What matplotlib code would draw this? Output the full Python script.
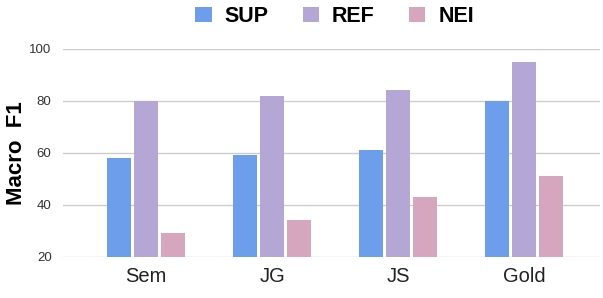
import matplotlib.pyplot as plt
import numpy as np

plt.rcParams['font.family'] = ['Liberation Sans', 'DejaVu Sans']

categories = ["Sem", "JG", "JS", "Gold"]
series = ["SUP", "REF", "NEI"]
sup = [58, 59, 61, 80]
ref = [80, 82, 84, 95]
nei = [29, 34, 43, 51]
colors = ["#6d9eeb", "#b4a7d6", "#d5a6bd"]

fig = plt.figure(figsize=(6.03, 2.98), dpi=100)
ax = fig.add_axes([0.104, 0.138, 0.891, 0.698])

x = np.arange(len(categories))
slot = 0.214
width = 0.19
for idx, vals in enumerate([sup, ref, nei]):
    ax.bar(x + (idx - 1) * slot, np.array(vals) - 20, bottom=20, width=width,
           color=colors[idx], label=series[idx], zorder=3)

ax.set_xlim(-0.66, 3.6)
ax.set_ylim(20, 100)
ax.set_yticks([20, 40, 60, 80, 100])
ax.yaxis.grid(True, color="#cccccc", linewidth=1, zorder=0)
for s in ax.spines.values():
    s.set_visible(False)
ax.tick_params(axis="y", length=0, labelsize=9.5, labelcolor="#333333", pad=8)
ax.tick_params(axis="x", length=0, labelsize=14.5, labelcolor="#222222", pad=7)
ax.set_xticks(x)
ax.set_xticklabels(categories)
ax.set_ylabel("Macro  F1", fontsize=16, fontweight="bold")
ax.yaxis.set_label_coords(-0.066, 0.5)

fig.legend(loc="upper center", bbox_to_anchor=(0.555, 1.045), ncol=3, frameon=False,
           prop={"size": 15.5, "weight": "bold"}, handlelength=0.75, handleheight=0.75,
           handletextpad=0.6, columnspacing=1.6)

plt.savefig("out.png", dpi=100)
